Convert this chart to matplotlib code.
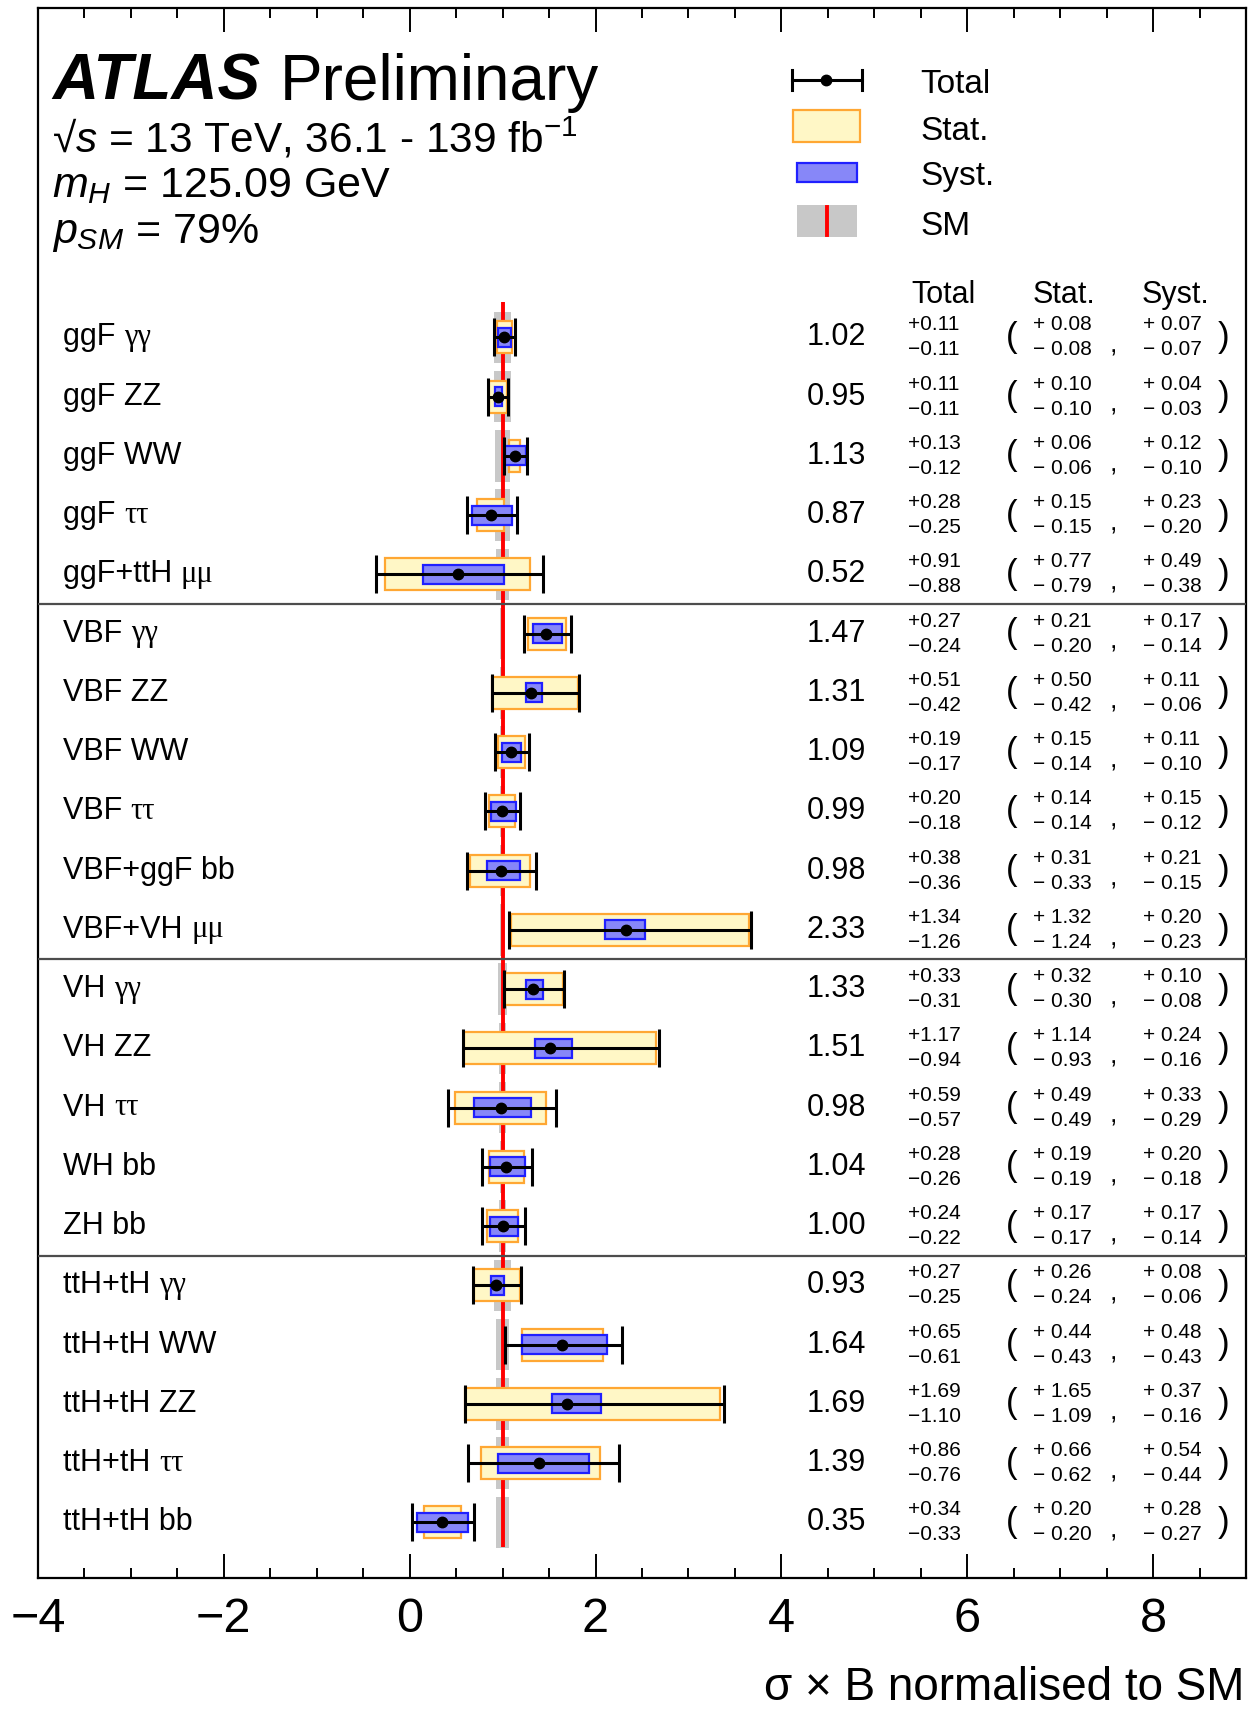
import numpy as np
import matplotlib
matplotlib.use('Agg')
import matplotlib.pyplot as plt
import matplotlib.patches as mpatches
from matplotlib.lines import Line2D
from matplotlib.ticker import MultipleLocator

# ---------- data ----------
names = ['ggF', 'ggF ZZ', 'ggF WW', 'ggF', 'ggF+ttH',
         'VBF', 'VBF ZZ', 'VBF WW', 'VBF', 'VBF+ggF bb', 'VBF+VH',
         'VH', 'VH ZZ', 'VH', 'WH bb', 'ZH bb',
         'ttH+tH', 'ttH+tH WW', 'ttH+tH ZZ', 'ttH+tH', 'ttH+tH bb']
greek = ['γγ', '', '', 'ττ', 'μμ',
         'γγ', '', '', 'ττ', '', 'μμ',
         'γγ', '', 'ττ', '', '',
         'γγ', '', '', 'ττ', '']
group_sizes = [5, 6, 5, 5]

mu      = np.array([1.02, 0.95, 1.13, 0.87, 0.52, 1.47, 1.31, 1.09, 0.99, 0.98, 2.33,
                    1.33, 1.51, 0.98, 1.04, 1.00, 0.93, 1.64, 1.69, 1.39, 0.35])
tot_up  = np.array([0.11, 0.11, 0.13, 0.28, 0.91, 0.27, 0.51, 0.19, 0.20, 0.38, 1.34,
                    0.33, 1.17, 0.59, 0.28, 0.24, 0.27, 0.65, 1.69, 0.86, 0.34])
tot_dn  = np.array([0.11, 0.11, 0.12, 0.25, 0.88, 0.24, 0.42, 0.17, 0.18, 0.36, 1.26,
                    0.31, 0.94, 0.57, 0.26, 0.22, 0.25, 0.61, 1.10, 0.76, 0.33])
stat_up = np.array([0.08, 0.10, 0.06, 0.15, 0.77, 0.21, 0.50, 0.15, 0.14, 0.31, 1.32,
                    0.32, 1.14, 0.49, 0.19, 0.17, 0.26, 0.44, 1.65, 0.66, 0.20])
stat_dn = np.array([0.08, 0.10, 0.06, 0.15, 0.79, 0.20, 0.42, 0.14, 0.14, 0.33, 1.24,
                    0.30, 0.93, 0.49, 0.19, 0.17, 0.24, 0.43, 1.09, 0.62, 0.20])
syst_up = np.array([0.07, 0.04, 0.12, 0.23, 0.49, 0.17, 0.11, 0.11, 0.15, 0.21, 0.20,
                    0.10, 0.24, 0.33, 0.20, 0.17, 0.08, 0.48, 0.37, 0.54, 0.28])
syst_dn = np.array([0.07, 0.03, 0.10, 0.20, 0.38, 0.14, 0.06, 0.10, 0.12, 0.15, 0.23,
                    0.08, 0.16, 0.29, 0.18, 0.14, 0.06, 0.43, 0.16, 0.44, 0.27])
# SM prediction uncertainty (grey band half width)
sm_unc  = np.array([0.09, 0.09, 0.08, 0.08, 0.07, 0.03, 0.03, 0.03, 0.03, 0.03, 0.03,
                    0.05, 0.04, 0.04, 0.03, 0.04, 0.09, 0.07, 0.07, 0.07, 0.07])

# ---------- style ----------
plt.rcParams['font.family'] = ['Liberation Sans', 'DejaVu Sans']
plt.rcParams['mathtext.fontset'] = 'custom'
plt.rcParams['mathtext.rm'] = 'Liberation Sans'
plt.rcParams['mathtext.it'] = 'Liberation Sans:italic'
plt.rcParams['mathtext.bf'] = 'Liberation Sans:bold'

W, H = 1259, 1709
fig = plt.figure(figsize=(W / 100, H / 100), dpi=100)
ax = fig.add_axes([38 / W, 1 - 1578 / H, 1208 / W, 1570 / H])

def fx(px):  # figure fraction from pixel
    return px / W

def fy(py):
    return 1 - py / H

def axx(px):  # axes fraction from pixel x
    return (px - 38) / 1208

n = len(mu)
y = np.arange(n)[::-1].astype(float)
ax.set_xlim(-4, 9)
ax.set_ylim(-0.94, n - 1 + 5.56)

# SM band + line
ax.barh(y, 2 * sm_unc, left=1 - sm_unc, height=0.87, color='#c8c8c8', lw=0, zorder=1)
ax.vlines(1, y[-1] - 0.42, y[0] + 0.59, color='#ff0000', lw=2.8, zorder=2)

# stat / syst boxes and total error bar
ax.barh(y, stat_up + stat_dn, left=mu - stat_dn, height=0.54, color='#fff7c6',
        edgecolor='#ffa733', lw=1.6, zorder=3)
ax.barh(y, syst_up + syst_dn, left=mu - syst_dn, height=0.32, color='#8787f8',
        edgecolor='#2020ff', lw=1.6, zorder=4)
ax.errorbar(mu, y, xerr=[tot_dn, tot_up], fmt='o', color='k', ms=7.5, lw=2.2,
            capsize=14, capthick=2.2, zorder=5)

# group separators
edges = np.cumsum(group_sizes)[:-1]
for e in edges:
    ax.axhline(y[e - 1] - 0.5, color='0.3', lw=1.6, zorder=6)

# axes style
for s in ax.spines.values():
    s.set_linewidth(1.6)
ax.set_yticks([])
ax.xaxis.set_major_locator(MultipleLocator(2))
ax.xaxis.set_minor_locator(MultipleLocator(0.5))
ax.tick_params(axis='x', which='both', direction='in', top=True, width=1.4)
ax.tick_params(axis='x', which='major', length=17, labelsize=35, pad=14)
ax.tick_params(axis='x', which='minor', length=7.5)

fig.text(fx(1244), fy(1700), 'σ × B normalised to SM', ha='right', va='baseline',
         fontsize=33)

# row labels
ty = ax.get_yaxis_transform()
for i in range(n):
    t = ax.text(axx(63), y[i], names[i] + (' ' if greek[i] else ''), transform=ty,
                va='center', ha='left', fontsize=22)
    if greek[i]:
        ax.annotate(greek[i], xy=(1, 0.5), xycoords=t, va='center', ha='left',
                    fontsize=22, family='Liberation Serif')

# numbers table
for i in range(n):
    ax.text(axx(836), y[i], '%.2f' % mu[i], transform=ty, ha='center', va='center',
            fontsize=22)
    for xp, up, dn, sp in [(908, tot_up[i], tot_dn[i], ''),
                           (1033, stat_up[i], stat_dn[i], ' '),
                           (1143, syst_up[i], syst_dn[i], ' ')]:
        ax.text(axx(xp), y[i] + 0.21, '+' + sp + '%.2f' % up, transform=ty, ha='left',
                va='center', fontsize=15)
        ax.text(axx(xp), y[i] - 0.21, '\u2212' + sp + '%.2f' % dn, transform=ty,
                ha='left', va='center', fontsize=15)
    ax.text(axx(1012), y[i], '(', transform=ty, ha='center', va='center', fontsize=25)
    ax.text(axx(1113), y[i] - 0.14, ',', transform=ty, ha='center', va='center',
            fontsize=19)
    ax.text(axx(1224), y[i], ')', transform=ty, ha='center', va='center', fontsize=25)

for xp, lab in [(944, 'Total'), (1064, 'Stat.'), (1175, 'Syst.')]:
    ax.text(axx(xp), y[0] + 0.72, lab, transform=ty, ha='center', va='center',
            fontsize=22)

# header
fig.text(fx(52), fy(100), 'ATLAS', fontsize=46, fontweight='bold', style='italic',
         va='baseline')
fig.text(fx(280), fy(100), 'Preliminary', fontsize=46, va='baseline')
fig.text(fx(52), fy(153), '\u221a$s$ = 13 TeV, 36.1 - 139 fb$^{-1}$', fontsize=30.5,
         va='baseline')
fig.text(fx(52), fy(197), r'$m_{H}$ = 125.09 GeV', fontsize=31, va='baseline')
fig.text(fx(52), fy(243), r'$p_{SM}$ = 79%', fontsize=31, va='baseline')

# legend (drawn by hand)
tf = fig.transFigure
fig.add_artist(Line2D([fx(792), fx(862)], [fy(80), fy(80)], color='k', lw=2.2,
                      transform=tf))
for xc in (792, 862):
    fig.add_artist(Line2D([fx(xc), fx(xc)], [fy(70), fy(90)], color='k', lw=2.2,
                          transform=tf))
fig.add_artist(Line2D([fx(826)], [fy(80)], marker='o', ms=7.5, color='k', transform=tf))
fig.add_artist(mpatches.Rectangle((fx(793), fy(142)), fx(67), 32 / H, transform=tf,
                                  facecolor='#fff7c6', edgecolor='#ffa733', lw=1.6))
fig.add_artist(mpatches.Rectangle((fx(797), fy(182)), fx(60), 19 / H, transform=tf,
                                  facecolor='#8787f8', edgecolor='#2020ff', lw=1.6))
fig.add_artist(mpatches.Rectangle((fx(797), fy(237)), fx(60), 32 / H, transform=tf,
                                  facecolor='#c8c8c8', lw=0))
fig.add_artist(Line2D([fx(827), fx(827)], [fy(207), fy(235)], color='#ff0000', lw=2.8,
                      transform=tf))
for lab, yb in [('Total', 93), ('Stat.', 140), ('Syst.', 185), ('SM', 235)]:
    fig.text(fx(920), fy(yb), lab, fontsize=24, va='baseline')

fig.savefig('out.png', dpi=100)
